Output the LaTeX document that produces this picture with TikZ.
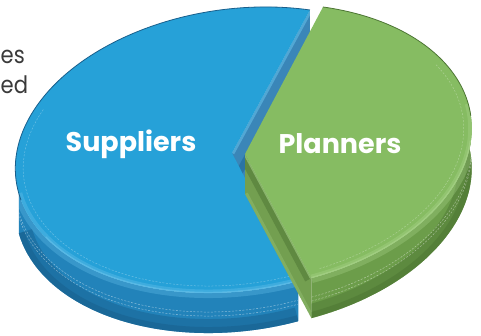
\documentclass[tikz,border=0pt]{standalone}
\usepackage{fontspec}
\setmainfont{Poppins}
\usetikzlibrary{calc}
\definecolor{bluetop}{HTML}{26A1D8}
\definecolor{blueside}{HTML}{2283BA}
\definecolor{bluedark}{HTML}{195F8C}
\definecolor{bluelight}{HTML}{62BEE8}
\definecolor{bluewall}{HTML}{3A86B8}
\definecolor{greentop}{HTML}{86BC62}
\definecolor{greenside}{HTML}{6C9D4A}
\definecolor{greendark}{HTML}{4C7533}
\definecolor{greenlight}{HTML}{A6D187}
\definecolor{greenwall}{HTML}{739F50}
\definecolor{txtgrey}{HTML}{3A3A3A}
\begin{document}
\begin{tikzpicture}[x=1pt,y=1pt,
  lbl/.style={text=white,font=\bfseries\fontsize{27}{27}\selectfont,inner sep=0},
  frag/.style={text=txtgrey,font=\fontsize{24}{28}\selectfont,inner sep=0,xscale=.88},
  faint/.style={white,opacity=.45,line width=.5,dash pattern=on 2pt off 1.5pt},
  ell/.style={x radius=223,y radius=141}]
\useasboundingbox (0,0) rectangle (481,335);
\def\th{40}
\coordinate (C) at (237,185);
\coordinate (A) at (232,182);
\coordinate (G) at (250,188);
\coordinate (Ag) at (245,181);
\begin{scope}[shift={(C)},rotate=8]
  \coordinate (Bt) at (65.7:223 and 141);
  \coordinate (Bb) at (281:223 and 141);
  \coordinate (Bl) at (185.1:223 and 141);
\end{scope}
\begin{scope}[shift={(G)},rotate=8]
  \coordinate (Gt) at (65.7:223 and 141);
  \coordinate (Gb) at (281:223 and 141);
  \coordinate (Gr) at (5.1:223 and 141);
\end{scope}
\coordinate (Bl2) at ($(Bl)+(0,-\th)$);
\coordinate (Bb2) at ($(Bb)+(0,-\th)$);
\coordinate (Bt2) at ($(Bt)+(0,-\th)$);
\coordinate (A2) at ($(A)+(0,-\th)$);
\coordinate (Gb2) at ($(Gb)+(0,-\th)$);
\coordinate (Gr2) at ($(Gr)+(0,-\th)$);
\coordinate (Ag2) at ($(Ag)+(0,-\th)$);
\coordinate (Bl3) at ($(Bl)+(0,-19)$);
\coordinate (Bl4) at ($(Bl)+(0,-23)$);
\coordinate (Gb3) at ($(Gb)+(0,-19)$);
\coordinate (Gb4) at ($(Gb)+(0,-23)$);
% ---- blue side
\begin{scope}
\clip[rotate=8] (Bl) arc[start angle=185.1,end angle=281,ell] -- (Bb2) arc[start angle=281,end angle=185.1,ell] -- cycle;
\fill[blueside] (0,0) rectangle (481,335);
\draw[rotate=8,bluedark,line width=28,opacity=.45] (Bl2) arc[start angle=185.1,end angle=281,ell];
\draw[rotate=8,bluedark,line width=12,opacity=.5] (Bl2) arc[start angle=185.1,end angle=281,ell];
\draw[rotate=8,bluelight,line width=10,opacity=.35] (Bl) arc[start angle=185.1,end angle=281,ell];
\draw[rotate=8,faint] (Bl3) arc[start angle=185.1,end angle=281,ell];
\draw[rotate=8,faint] (Bl4) arc[start angle=185.1,end angle=281,ell];
\end{scope}
% ---- filler below the apex
\fill[bluewall] (A) -- (Ag) -- (Ag2) -- (A2) -- cycle;
% ---- blue wall (visible cut face)
\begin{scope}
\clip (A) -- (Bt) -- (Bt2) -- (A2) -- cycle;
\fill[bluewall] (0,0) rectangle (481,335);
\draw[bluedark,line width=14,opacity=.45] (A2) -- (Bt2);
\draw[bluelight,line width=5,opacity=.6] (A) -- (Bt);
\end{scope}
% ---- blue top face
\begin{scope}
\clip[rotate=8] (A) -- (Bt) arc[start angle=65.7,end angle=281,ell] -- cycle;
\fill[bluetop] (0,0) rectangle (481,335);
\draw[rotate=8,bluelight,line width=7,opacity=.4] (Bl) arc[start angle=185.1,end angle=281,ell];
\begin{scope}[shift={(C)},rotate=8]
\draw[bluelight,line width=2.5,opacity=.7] (205:223 and 141) arc[start angle=205,end angle=281,ell];
\draw[faint,opacity=.3] (150:215 and 134) arc[start angle=150,end angle=279,x radius=215,y radius=134];
\end{scope}
\end{scope}
\draw[rotate=8,bluedark,line width=.8] (Bt) arc[start angle=65.7,end angle=188,ell];
% ---- green side
\begin{scope}
\clip[rotate=8] (Gb) arc[start angle=281,end angle=365.1,ell] -- (Gr2) arc[start angle=365.1,end angle=281,ell] -- cycle;
\fill[greenside] (0,0) rectangle (481,335);
\draw[rotate=8,greendark,line width=28,opacity=.45] (Gb2) arc[start angle=281,end angle=365.1,ell];
\draw[rotate=8,greendark,line width=12,opacity=.5] (Gb2) arc[start angle=281,end angle=365.1,ell];
\draw[rotate=8,greenlight,line width=10,opacity=.35] (Gb) arc[start angle=281,end angle=365.1,ell];
\draw[rotate=8,faint] (Gb3) arc[start angle=281,end angle=365.1,ell];
\draw[rotate=8,faint] (Gb4) arc[start angle=281,end angle=365.1,ell];
\end{scope}
% ---- green wall (visible cut face)
\begin{scope}
\clip (Ag) -- (Gb) -- (Gb2) -- (Ag2) -- cycle;
\fill[greenwall] (0,0) rectangle (481,335);
\draw[greendark,line width=14,opacity=.5] (Ag) -- (Gb);
\draw[greenlight,line width=3,opacity=.6] (Ag) -- (Gb);
\draw[greenlight,line width=6,opacity=.3] (Ag2) -- (Gb2);
\end{scope}
% ---- green top face
\begin{scope}
\clip[rotate=8] (Ag) -- (Gb) arc[start angle=281,end angle=425.7,ell] -- cycle;
\fill[greentop] (0,0) rectangle (481,335);
\draw[rotate=8,greenlight,line width=7,opacity=.4] (Gb) arc[start angle=281,end angle=365.1,ell];
\begin{scope}[shift={(G)},rotate=8]
\draw[greenlight,line width=2.5,opacity=.7] (281:223 and 141) arc[start angle=281,end angle=350,ell];
\draw[faint,opacity=.3] (284:215 and 134) arc[start angle=284,end angle=385,x radius=215,y radius=134];
\end{scope}
\end{scope}
\draw[rotate=8,greendark,line width=.8] (Gt) arc[start angle=65.7,end angle=0,ell];
% ---- labels
\node[lbl,anchor=base] (sup) at (131,183) {Suppliers};
\node[lbl,anchor=base] (pla) at (340,182) {Planners};
\node[frag,anchor=base west] (f1) at (0.5,271) {es};
\node[frag,anchor=base west] (f2) at (0.5,241) {ed};
\end{tikzpicture}
\end{document}
